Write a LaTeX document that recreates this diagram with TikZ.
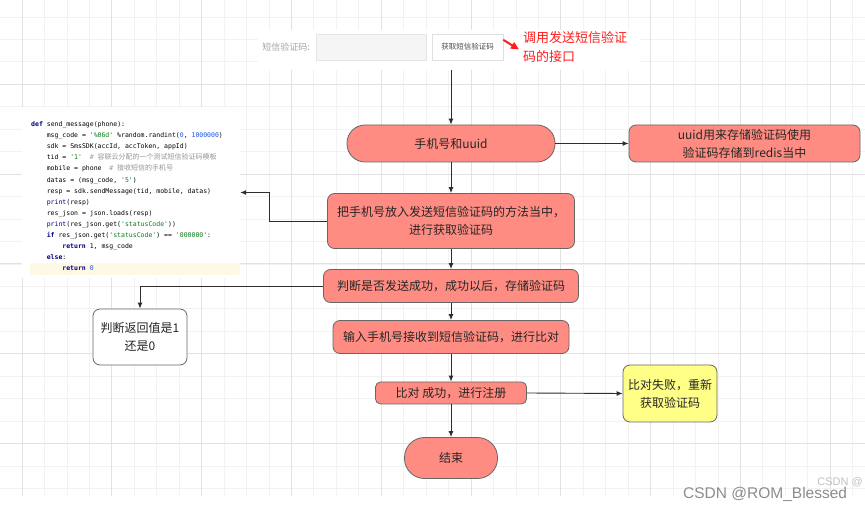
\documentclass[tikz,border=0pt]{standalone}
\usepackage{fontspec}
\setmainfont{Noto Sans CJK SC}
\setmonofont{DejaVu Sans Mono}
\newfontfamily\cjkfont{Noto Sans CJK SC}
\newfontfamily\wmfont{Liberation Sans}
\usetikzlibrary{arrows.meta,positioning,calc}

\definecolor{boxred}{RGB}{255,140,130}
\definecolor{boxyellow}{RGB}{255,255,136}
\definecolor{gridminor}{RGB}{242,242,242}
\definecolor{gridmajor}{RGB}{226,226,226}
\definecolor{linegray}{RGB}{45,45,45}
\definecolor{pykwc}{RGB}{0,0,128}
\definecolor{pystrc}{RGB}{6,125,23}
\definecolor{pynumc}{RGB}{23,80,235}
\definecolor{pycmtc}{RGB}{150,150,150}
\definecolor{hlyellow}{RGB}{253,249,228}
\definecolor{hintred}{RGB}{255,30,30}

\newcommand{\pykw}[1]{\textcolor{pykwc}{\textbf{#1}}}
\newcommand{\pybi}[1]{\textcolor{pykwc}{#1}}
\newcommand{\pynum}[1]{\textcolor{pynumc}{#1}}
\newcommand{\pyq}[1]{\textcolor{pystrc}{\textquotesingle#1\textquotesingle}}
\newcommand{\pycmt}[1]{\textcolor{pycmtc}{\#~{\cjkfont\fontsize{7}{11}\selectfont #1}}}
\newcommand{\ind}{\hspace*{15.6pt}}

\begin{document}
\begin{tikzpicture}[
    x=1pt, y=-1pt,
    gridline/.style={draw=gridminor, line width=0.8pt},
    gridbold/.style={draw=gridmajor, line width=0.9pt},
    flow/.style={draw=black!60, fill=boxred, rounded corners=7pt, line width=0.8pt,
        align=center, inner sep=0pt, text=black!85,
        font=\fontsize{12}{18}\selectfont},
    pill/.style={flow, rounded corners=#1},
    conn/.style={draw=linegray, line width=0.9pt, -{Latex[length=6pt,width=5pt]}},
 ]
    \useasboundingbox (0,0) rectangle (865,510);

    % background grid
    \foreach \k in {0,...,38}
        \draw[gridline] (22+22.45*\k,0) -- (22+22.45*\k,496);
    \foreach \k in {0,...,21}
        \draw[gridline] (0,17+22.45*\k) -- (865,17+22.45*\k);
    \foreach \k in {0,4,...,36}
        \draw[gridbold] (22+22.45*\k,0) -- (22+22.45*\k,496);
    \foreach \k in {3,7,...,19}
        \draw[gridbold] (0,17+22.45*\k) -- (865,17+22.45*\k);

    % form screenshot
    \node[fill=white, minimum width=382pt, minimum height=40pt] (formshot) at (449,50) {};
    \node[text=black!35, font=\fontsize{9}{11}\selectfont] (label) at (286,47) {短信验证码:};
    \node[draw=black!10, fill=black!4, minimum width=110pt, minimum height=26pt] (input) at (371,47) {};
    \node[draw=black!12, fill=white, minimum width=71pt, minimum height=26pt,
        text=black!70, font=\fontsize{7.5}{9}\selectfont] (btn) at (467.5,47) {获取短信验证码};
    \node[anchor=west, align=left, inner sep=0pt, text=hintred,
        font=\fontsize{13}{19}\selectfont] (hint) at (523,47.5) {调用发送短信验证\\码的接口};
    \draw[hintred, line width=2pt, -{Triangle[length=8pt,width=7pt]}]
        ([xshift=0pt,yshift=-6pt]btn.north east) -- ([xshift=-4pt,yshift=-2pt]hint.west);

    % code screenshot
    \node[fill=white, minimum width=218pt, minimum height=171pt] (codeshot) at (131,192.5) {};
    \fill[hlyellow] (30,263) rectangle (240,275);
    \node[anchor=north west, align=left, inner sep=0pt,
        font=\ttfamily\fontsize{6.5}{11.08}\selectfont] (code) at (31,121.5) {%
        \pykw{def} send\_message(phone):\\
        \ind msg\_code = \pyq{\%06d} \%random.randint(\pynum{0}, \pynum{1000000})\\
        \ind sdk = SmsSDK(accId, accToken, appId)\\
        \ind tid = \pyq{1}~~\pycmt{容联云分配的一个测试短信验证码模板}\\
        \ind mobile = phone~~\pycmt{接收短信的手机号}\\
        \ind datas = (msg\_code, \pyq{5})\\
        \ind resp = sdk.sendMessage(tid, mobile, datas)\\
        \ind \pybi{print}(resp)\\
        \ind res\_json = json.loads(resp)\\
        \ind \pybi{print}(res\_json.get(\pyq{statusCode}))\\
        \ind \pykw{if} res\_json.get(\pyq{statusCode}) == \pyq{000000}:\\
        \ind\ind \pykw{return} 1, msg\_code\\
        \ind \pykw{else}:\\
        \ind\ind \pykw{return} \pynum{0}};

    % flow
    \node[pill=18pt, minimum width=208pt, minimum height=37pt] (uuid) at (451,143.5) {手机号和uuid};
    \node[flow, minimum width=231pt, minimum height=37pt] (redis) at (744.5,143.5)
        {uuid用来存储验证码使用\\验证码存储到redis当中};
    \node[flow, minimum width=247pt, minimum height=55pt] (send) at (451,221)
        {把手机号放入发送短信验证码的方法当中，\\进行获取验证码};
    \node[flow, minimum width=255pt, minimum height=33pt] (check) at (451,286)
        {判断是否发送成功，成功以后，存储验证码};
    \node[flow, fill=white, minimum width=94pt, minimum height=56pt] (ret) at (140,337)
        {判断返回值是1\\还是0};
    \node[flow, minimum width=236pt, minimum height=33pt] (input2) at (451,337)
        {输入手机号接收到短信验证码，进行比对};
    \node[flow, rounded corners=5pt, minimum width=151pt, minimum height=22pt] (reg) at (451,393)
        {比对 成功，进行注册};
    \node[flow, fill=boxyellow, minimum width=94pt, minimum height=57pt] (fail) at (670,393.5)
        {比对失败，重新\\获取验证码};
    \node[pill=20pt, minimum width=93pt, minimum height=41pt] (stop) at (451,458) {结束};

    \draw[conn] (formshot.south -| uuid.north) -- (uuid.north);
    \draw[conn] (uuid.east) -- (redis.west);
    \draw[conn] (uuid.south) -- (send.north);
    \draw[conn] (send.west) -- ++(-58,0) |- (codeshot.east);
    \draw[conn] (send.south) -- (check.north);
    \draw[conn] (check.west) -| (ret.north);
    \draw[conn] (check.south) -- (input2.north);
    \draw[conn] (input2.south) -- (reg.north);
    \draw[conn] (reg.east) -- (fail.west);
    \draw[conn] (reg.south) -- (stop.north);

    % watermark
    \node[anchor=base east, inner sep=0pt, text=black!25, font=\wmfont\fontsize{11}{13}\selectfont]
        (wm2) at (863,485) {CSDN @};
    \node[anchor=base west, inner sep=0pt, text=black!45, font=\wmfont\fontsize{15.5}{18}\selectfont]
        (wm1) at (683,498) {CSDN @ROM\_Blessed};
\end{tikzpicture}
\end{document}
